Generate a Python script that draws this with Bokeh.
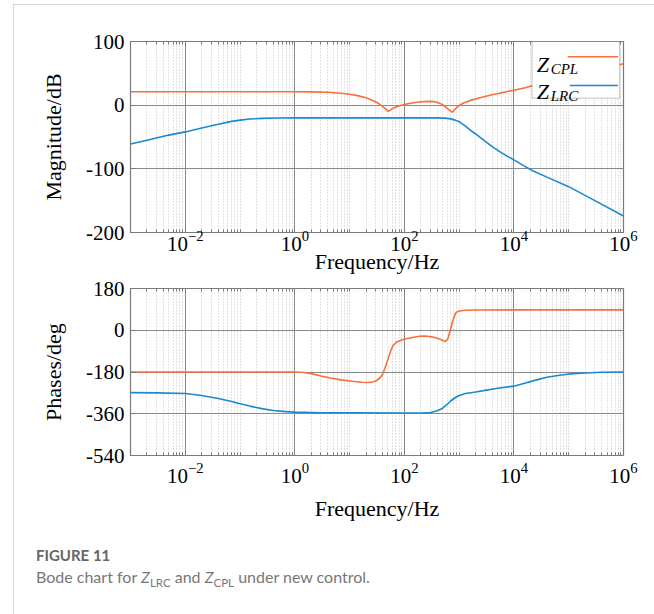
from bokeh.plotting import figure
from bokeh.layouts import column
from bokeh.models import (Range1d, FixedTicker, LogAxis, BoxAnnotation, Label, Div,
                          CustomJSTickFormatter, LogTickFormatter, Arrow)
from bokeh.embed import file_html
from bokeh.resources import INLINE

# ---------------- data ----------------
f_cpl_mag = [0.001, 0.1, 1, 2, 4, 7, 10, 14, 20, 27, 34, 40, 45, 49, 51, 56, 62, 72, 85,
             100, 130, 170, 230, 300, 380, 450, 520, 600, 680, 750, 800, 880, 1000, 1200,
             1600, 2500, 4000, 6300, 10000, 16000, 25000, 100000, 1000000]
cpl_mag = [21, 21, 21, 20.8, 20.2, 18.8, 17.2, 15, 11.5, 7, 2.5, -2, -5.5, -8.5, -9.8,
           -7.5, -4.8, -2.5, -0.5, 1, 3, 4.6, 5.6, 6, 5, 2.8, -0.5, -4.5, -8.5, -11, -8.5,
           -4.5, -0.5, 3.5, 7.5, 12, 16.5, 20, 23.5, 27.5, 32, 44, 65]

f_lrc_mag = [0.001, 0.002, 0.005, 0.01, 0.02, 0.04, 0.07, 0.1, 0.15, 0.25, 0.5, 1, 10,
             100, 400, 550, 700, 850, 1000, 1300, 1700, 2200, 3000, 4000, 5500, 7500,
             10000, 15000, 22000, 40000, 100000, 300000, 1000000]
lrc_mag = [-61, -55, -47, -42, -36, -30, -25.5, -23.5, -21.8, -20.7, -20.1, -20, -20,
           -20, -20, -20.3, -21.5, -23.5, -26, -33, -41, -48, -57, -65, -73, -80,
           -86, -95, -103, -113, -128, -150, -174]

f_cpl_ph = [0.001, 1, 1.5, 2, 3, 4.5, 7, 11, 17, 24, 30, 35, 40, 44, 50, 56, 62, 70, 76,
            100, 186, 245, 330, 440, 540, 560, 620, 660, 760, 870, 1000, 1300, 2000,
            10000, 1000000]
cpl_ph = [-180, -180, -182, -187, -197, -206, -214, -220, -224, -225, -219, -208, -190,
          -165, -126, -90, -66, -54, -48, -38, -26, -25, -29, -38, -47, -48, -38, -15,
          40, 76, 83, 86.5, 87.5, 88, 88]

f_lrc_ph = [0.001, 0.003, 0.01, 0.02, 0.04, 0.07, 0.1, 0.15, 0.25, 0.4, 0.7, 1, 3, 10,
            100, 200, 300, 400, 500, 600, 700, 850, 1000, 1300, 2000, 3160, 5000, 10000,
            15000, 25000, 40000, 68000, 120000, 200000, 400000, 1000000]
lrc_ph = [-269, -270, -273, -281, -294, -307, -317, -327, -338, -346, -351, -353, -355.5,
          -356, -357, -357, -355, -347, -336, -320, -305, -290, -281, -273, -266, -258,
          -250, -241, -230, -215, -203, -194, -187, -184, -181, -180]

x_major = [1e-2, 1e0, 1e2, 1e4, 1e6]
mag_ticks = [-200, -100, 0, 100]
phase_ticks = [-540, -360, -180, 0, 180]

# ---------------- styles ----------------
ORANGE = "#FA6E3A"
BLUE = "#1C88D0"
SERIF = "Liberation Serif"
FRAME = "#7a7a7a"
TICK_FS = "21px"
LABEL_FS = "22px"

x_minor = [k * 10.0 ** n for n in range(-3, 6) for k in range(1, 10)
           if not (k == 1 and n % 2 == 0)]


def make_fig(height, yr, yticks, ylabel, b_top, b_bottom, xlabel_standoff, xtick_standoff):
    p = figure(width=640, height=height, x_axis_type="log",
               x_range=Range1d(1e-3, 1e6), y_range=Range1d(*yr),
               output_backend="svg", toolbar_location=None,
               min_border_left=116, min_border_right=31,
               min_border_top=b_top, min_border_bottom=b_bottom)
    p.background_fill_color = "white"
    p.border_fill_color = "white"
    p.outline_line_color = FRAME
    p.outline_line_width = 1.2

    xt = FixedTicker(ticks=x_major, minor_ticks=x_minor)
    yt = FixedTicker(ticks=yticks)
    p.xaxis.ticker = xt
    p.yaxis.ticker = yt
    p.xgrid.ticker = xt
    p.ygrid.ticker = yt

    for ax in (p.xaxis[0], p.yaxis[0]):
        ax.axis_line_color = FRAME
        ax.major_tick_line_color = FRAME
        ax.minor_tick_line_color = FRAME
        ax.major_tick_in = 5
        ax.major_tick_out = 0
        ax.minor_tick_in = 3
        ax.minor_tick_out = 0
        ax.major_label_text_font = SERIF
        ax.major_label_text_font_size = TICK_FS
        ax.major_label_text_color = "black"
        ax.axis_label_text_font = SERIF
        ax.axis_label_text_font_size = LABEL_FS
        ax.axis_label_text_font_style = "normal"
        ax.axis_label_text_color = "black"

    p.xaxis.formatter = LogTickFormatter()
    p.xaxis.axis_label = "Frequency/Hz"
    p.xaxis.axis_label_standoff = xlabel_standoff
    p.xaxis.major_label_standoff = xtick_standoff
    p.yaxis.axis_label = ylabel
    p.yaxis.axis_label_standoff = 17
    p.yaxis.major_label_standoff = 6
    p.yaxis.minor_tick_line_color = None
    p.yaxis.formatter = CustomJSTickFormatter(code="return tick.toString()")

    top = LogAxis(ticker=xt, formatter=CustomJSTickFormatter(code="return ''"),
                  axis_line_color=FRAME, major_tick_line_color=FRAME,
                  minor_tick_line_color=FRAME, major_tick_in=5, major_tick_out=0,
                  minor_tick_in=3, minor_tick_out=0, major_label_standoff=0,
                  major_label_text_font_size="1px")
    p.add_layout(top, "above")

    p.xgrid.grid_line_color = "#8a8a8a"
    p.xgrid.grid_line_width = 1
    p.ygrid.grid_line_color = "#8a8a8a"
    p.ygrid.grid_line_width = 1
    p.xgrid.minor_grid_line_color = "#c4c4c4"
    p.xgrid.minor_grid_line_dash = "1 2"
    p.xgrid.minor_grid_line_width = 1
    return p


# ---------------- magnitude ----------------
p1 = make_fig(272, (-200, 100), mag_ticks, "Magnitude/dB", 36, 45, -5, -2)
p1.line(f_cpl_mag, cpl_mag, line_color=ORANGE, line_width=1.6)
p1.line(f_lrc_mag, lrc_mag, line_color=BLUE, line_width=1.6)

# legend box (drawn by hand to keep subscripts)
L = 10 ** 4.33
R = 10 ** 5.93
p1.add_layout(BoxAnnotation(left=L, right=R, top=100, bottom=11,
                            fill_color="white", fill_alpha=1,
                            line_color="#333333", line_width=1))
for z_y, s_y, name, col, ly, lx in [(64, 57.5, "CPL", ORANGE, 76, 4.98),
                                     (21, 14.5, "LRC", BLUE, 31, 5.02)]:
    p1.add_layout(Label(x=10 ** 4.418, y=z_y, text="Z", text_font=SERIF,
                        text_font_style="italic", text_font_size="22px",
                        text_baseline="alphabetic", text_color="black"))
    p1.add_layout(Label(x=10 ** 4.67, y=s_y, text=name, text_font=SERIF,
                        text_font_style="italic", text_font_size="15px",
                        text_baseline="alphabetic", text_color="black"))
    p1.add_layout(Arrow(end=None, x_start=10 ** lx, y_start=ly, x_end=10 ** 5.9,
                        y_end=ly, line_color=col, line_width=1.6))

# ---------------- phase ----------------
p2 = make_fig(246, (-540, 180), phase_ticks, "Phases/deg", 11, 66, 10, 7)
p2.line(f_cpl_ph, cpl_ph, line_color=ORANGE, line_width=1.6)
p2.line(f_lrc_ph, lrc_ph, line_color=BLUE, line_width=1.6)

# ---------------- caption ----------------
cap = Div(width=640, height=88, text=(
    '<div style="padding-left:17px;padding-top:17px;font-family:Lato,\'Open Sans\',sans-serif;">'
    '<div style="font-weight:700;font-size:15px;color:#666;">FIGURE 11</div>'
    '<div style="font-size:16px;color:#777;margin-top:0px;">Bode chart for <i>Z</i>'
    '<sub style="font-size:11.5px;">LRC</sub> and <i>Z</i><sub style="font-size:11.5px;">CPL</sub>'
    ' under new control.</div></div>'))

layout = column(p1, p2, cap, spacing=0,
                styles={"margin-left": "13px", "margin-top": "4px",
                        "border-left": "1px solid #d6d6d6", "border-top": "1px solid #d6d6d6"})

open("out.html", "w").write(file_html(layout, INLINE))
